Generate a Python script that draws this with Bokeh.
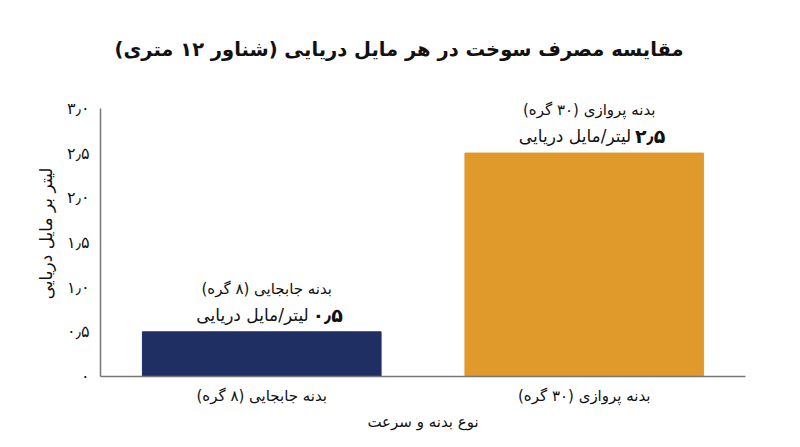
from bokeh.plotting import figure
from bokeh.models import ColumnDataSource, FactorRange, Range1d, FixedTicker
from bokeh.embed import file_html
from bokeh.resources import INLINE
from bokeh.core.properties import value

# ---- data ----
categories = ["بدنه جابجایی (۸ گره)", "بدنه پروازی (۳۰ گره)"]
values = [0.5, 2.5]
value_labels = ["۰٫۵", "۲٫۵"]
unit_label = "لیتر/مایل دریایی"
colors = ["#1f2f63", "#e09a2b"]
y_ticks = [0, 0.5, 1.0, 1.5, 2.0, 2.5, 3.0]
y_tick_labels = ["۰", "۰٫۵", "۱٫۰", "۱٫۵", "۲٫۰", "۲٫۵", "۳٫۰"]
title_text = "مقایسه مصرف سوخت در هر مایل دریایی (شناور ۱۲ متری)"
x_title = "نوع بدنه و سرعت"
y_title = "لیتر بر مایل دریایی"

FONT = "DejaVu Sans"

src = ColumnDataSource(dict(cat=categories, val=values, vlab=value_labels,
                            unit=[unit_label] * len(values), color=colors))

p = figure(width=784, height=433, x_range=FactorRange(*categories, range_padding=0),
           y_range=Range1d(0, 3.2), output_backend="svg", toolbar_location=None,
           min_border_left=100, min_border_right=39, min_border_top=90, min_border_bottom=57)
p.outline_line_color = None
p.grid.grid_line_color = None

p.title.text = title_text
p.title.align = "left"
p.title.offset = 14
p.title.text_font = FONT
p.title.text_font_size = "19.5px"
p.title.text_font_style = "bold"
p.title.text_color = "#111111"
p.title.standoff = 60

p.vbar(x="cat", top="val", width=0.74, color="color", source=src)

# annotations
p.text(x="cat", y="val", text="cat", source=src, text_align="center", text_baseline="middle",
       x_offset=5, y_offset=-43, text_font=value(FONT), text_font_size="15px", text_color="#111111")
p.text(x="cat", y="val", text="vlab", source=src, text_align="right", text_baseline="middle",
       x_offset=81, y_offset=-17, text_font=value(FONT), text_font_size="19px",
       text_font_style="bold", text_color="#111111")
p.text(x="cat", y="val", text="unit", source=src, text_align="right", text_baseline="middle",
       x_offset=47, y_offset=-17, text_font=value(FONT), text_font_size="17px", text_color="#111111")

for ax in (p.xaxis[0], p.yaxis[0]):
    ax.axis_line_color = "#777777"
    ax.axis_line_width = 1.5
    ax.major_tick_line_color = None
    ax.minor_tick_line_color = None
    ax.major_label_text_font = FONT
    ax.major_label_text_font_size = "15px"
    ax.major_label_text_color = "#111111"
    ax.axis_label_text_font = FONT
    ax.axis_label_text_font_size = "15px"
    ax.axis_label_text_font_style = "normal"
    ax.axis_label_text_color = "#111111"

p.yaxis.ticker = FixedTicker(ticks=y_ticks)
p.yaxis.bounds = (0, 3.0)
p.yaxis.major_label_overrides = {t: l for t, l in zip(y_ticks, y_tick_labels)}
p.yaxis.major_label_text_font_size = "16px"
p.yaxis.major_label_standoff = 5
p.yaxis.axis_label = y_title
p.yaxis.axis_label_text_font_size = "17px"
p.yaxis.axis_label_standoff = 8

p.xaxis.major_label_standoff = 4
p.xaxis.axis_label = x_title
p.xaxis.axis_label_standoff = 5

open("out.html", "w").write(file_html(p, INLINE))
